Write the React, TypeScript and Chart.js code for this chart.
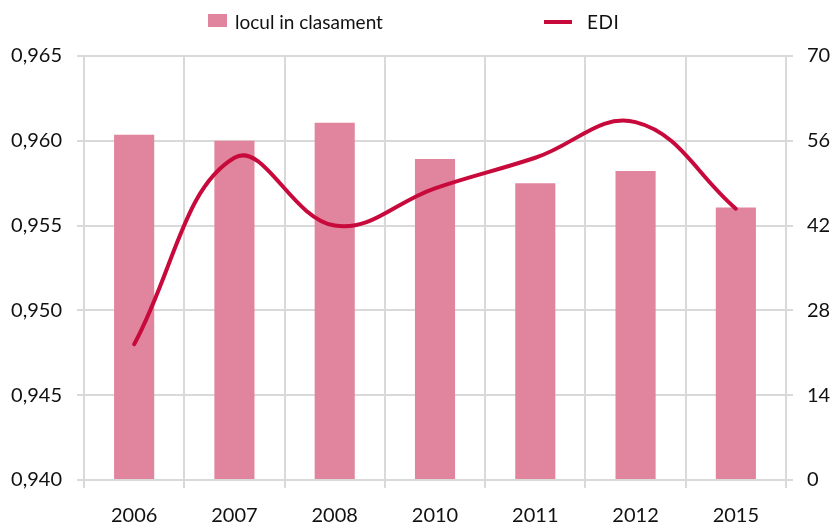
import React, { useEffect, useRef } from "react";
import { Chart, registerables } from "chart.js";

Chart.register(...registerables);

const categories = ["2006", "2007", "2008", "2010", "2011", "2012", "2015"];
const rankValues = [57, 56, 59, 53, 49, 51, 45];
const ediValues = [0.948, 0.959, 0.955, 0.9572, 0.959, 0.9611, 0.956];
const leftTicks = [0.94, 0.945, 0.95, 0.955, 0.96, 0.965];
const rightTicks = [0, 14, 28, 42, 56, 70];
const rankLabel = "locul in clasament";
const ediLabel = "EDI";

const BAR_COLOR = "#E1849D";
const LINE_COLOR = "#C8093B";
const GRID_COLOR = "#D9D9D9";
const TEXT_COLOR = "#111111";
const FONT = "Lato, 'DejaVu Sans', sans-serif";

export default function App() {
  const canvasRef = useRef<HTMLCanvasElement | null>(null);

  useEffect(() => {
    if (!canvasRef.current) return;
    const chart = new Chart(canvasRef.current, {
      type: "bar",
      data: {
        labels: categories,
        datasets: [
          {
            type: "line",
            label: ediLabel,
            data: ediValues,
            yAxisID: "y",
            borderColor: LINE_COLOR,
            backgroundColor: LINE_COLOR,
            borderWidth: 4,
            pointRadius: 0,
            tension: 0.4,
            borderCapStyle: "round",
            order: 0,
          } as any,
          {
            type: "bar",
            label: rankLabel,
            data: rankValues,
            yAxisID: "y1",
            backgroundColor: BAR_COLOR,
            barPercentage: 0.4,
            categoryPercentage: 1,
            order: 1,
          } as any,
        ],
      },
      options: {
        responsive: false,
        animation: false,
        layout: { padding: { top: 56, left: 0, right: 0, bottom: 0 } },
        plugins: {
          legend: { display: false },
          tooltip: { enabled: false },
        },
        scales: {
          x: {
            offset: true,
            grid: {
              offset: true,
              color: GRID_COLOR,
              lineWidth: 2,
              tickLength: 8,
              drawTicks: true,
            },
            border: { color: GRID_COLOR, width: 2 },
            ticks: {
              color: TEXT_COLOR,
              font: { family: FONT, size: 20 },
              padding: 16,
              maxRotation: 0,
            },
            afterFit: (s: any) => {
              s.height = 43;
            },
          },
          y: {
            position: "left",
            min: leftTicks[0],
            max: leftTicks[leftTicks.length - 1],
            afterBuildTicks: (s: any) => {
              s.ticks = leftTicks.map((v) => ({ value: v }));
            },
            grid: {
              color: GRID_COLOR,
              lineWidth: 2,
              tickLength: 7,
            },
            border: { display: false },
            ticks: {
              color: TEXT_COLOR,
              font: { family: FONT, size: 20 },
              padding: 15,
              callback: (v: any) => Number(v).toFixed(3).replace(".", ","),
            },
            afterFit: (s: any) => {
              s.width = 84;
            },
          },
          y1: {
            position: "right",
            min: rightTicks[0],
            max: rightTicks[rightTicks.length - 1],
            afterBuildTicks: (s: any) => {
              s.ticks = rightTicks.map((v) => ({ value: v }));
            },
            grid: {
              drawOnChartArea: false,
              color: GRID_COLOR,
              lineWidth: 2,
              tickLength: 7,
            },
            border: { display: false },
            ticks: {
              color: TEXT_COLOR,
              font: { family: FONT, size: 20 },
              padding: 14,
            },
            afterFit: (s: any) => {
              s.width = 47;
            },
          },
        },
      },
    });
    return () => chart.destroy();
  }, []);

  return (
    <div
      style={{
        position: "absolute",
        left: 0,
        top: 0,
        width: 833,
        height: 523,
        background: "#fff",
        fontFamily: FONT,
      }}
    >
      <canvas ref={canvasRef} width={833} height={523} />
      <div
        style={{
          position: "absolute",
          left: 208,
          top: 14,
          width: 19,
          height: 13,
          background: BAR_COLOR,
        }}
      />
      <div
        style={{
          position: "absolute",
          left: 235,
          top: 9,
          fontSize: 19,
          lineHeight: "26px",
          color: TEXT_COLOR,
          whiteSpace: "nowrap",
        }}
      >
        {rankLabel}
      </div>
      <div
        style={{
          position: "absolute",
          left: 544,
          top: 20,
          width: 28,
          height: 4,
          background: LINE_COLOR,
        }}
      />
      <div
        style={{
          position: "absolute",
          left: 587,
          top: 9,
          fontSize: 19,
          lineHeight: "26px",
          letterSpacing: "0.5px",
          color: TEXT_COLOR,
          whiteSpace: "nowrap",
        }}
      >
        {ediLabel}
      </div>
    </div>
  );
}
